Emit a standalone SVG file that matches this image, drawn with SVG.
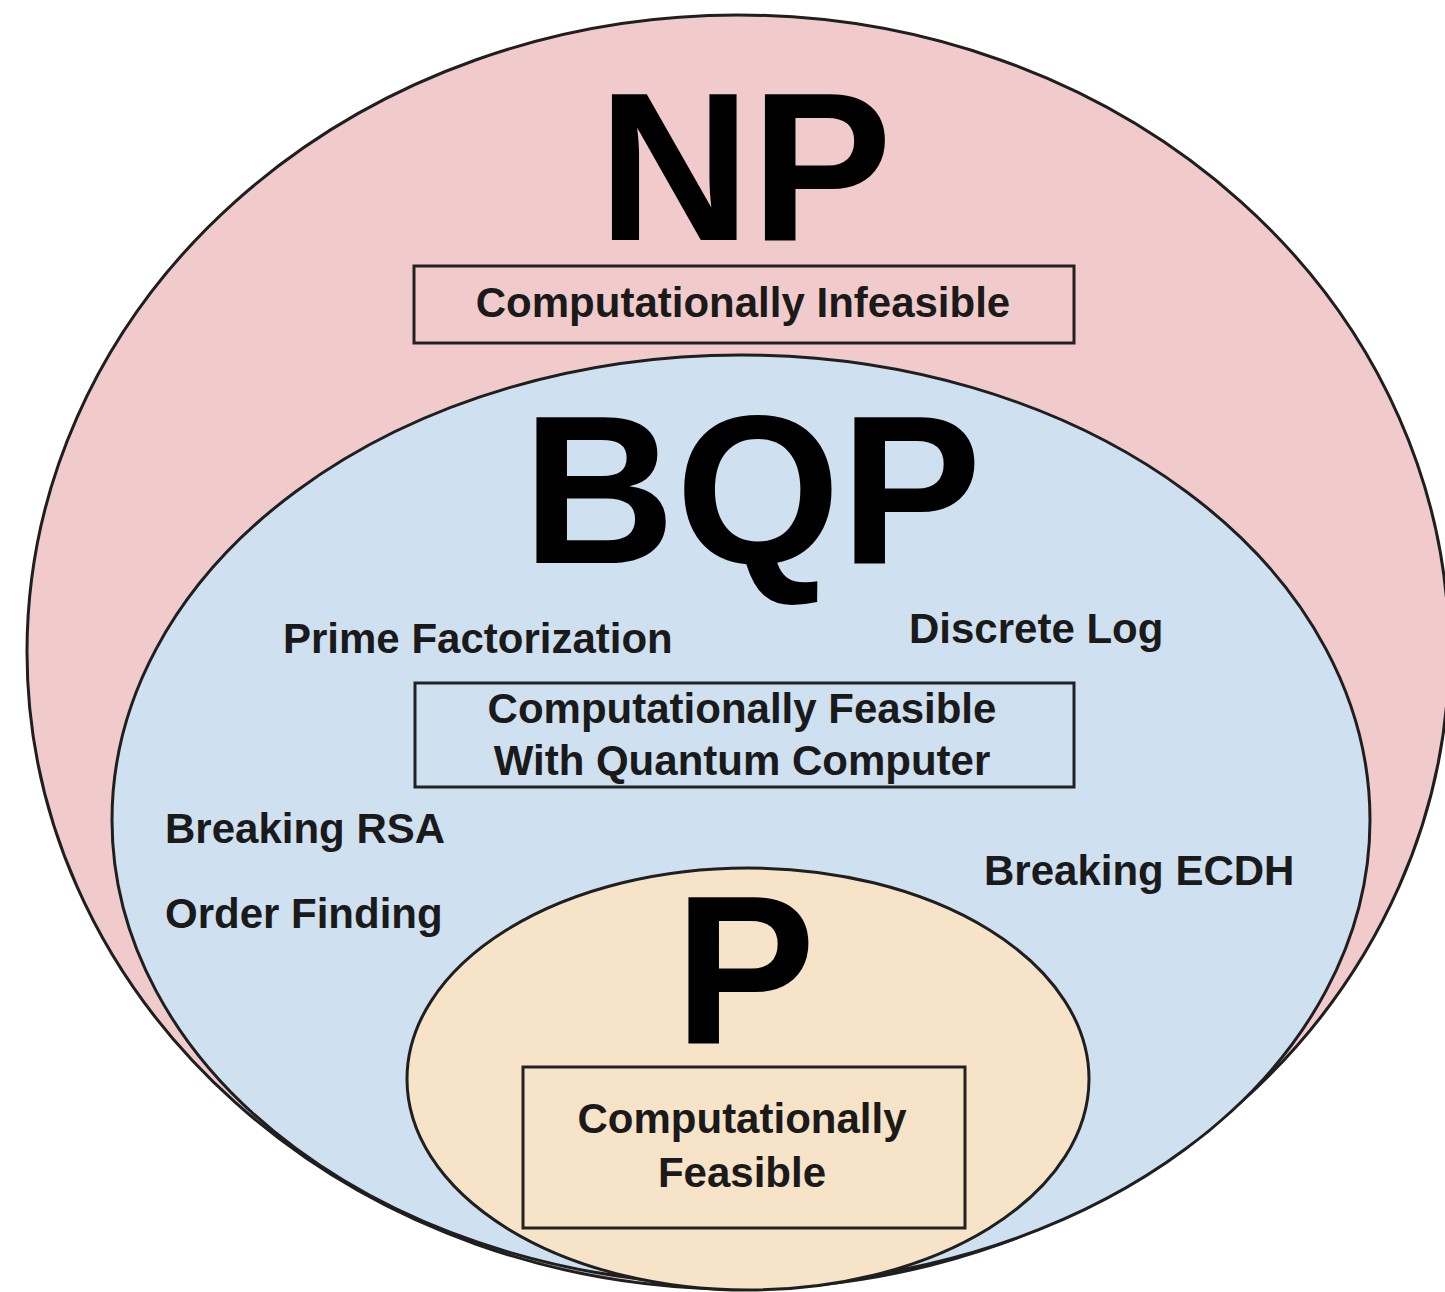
<svg xmlns="http://www.w3.org/2000/svg" width="1445" height="1292" viewBox="0 0 1445 1292">
  <style>
    .set { stroke: #1f1f1f; stroke-width: 3; }
    .box { fill: none; stroke: #222; stroke-width: 3; }
    .big { font-family: "Liberation Sans", Arial, sans-serif; font-weight: bold; font-size: 212px; fill: #000; text-anchor: middle; }
    .lbl { font-family: "Liberation Sans", Arial, sans-serif; font-weight: bold; font-size: 42px; fill: #1a1a1a; }
    .mid { text-anchor: middle; }
  </style>
  <rect width="1445" height="1292" fill="#ffffff"/>

  <!-- NP: outermost class -->
  <g id="np">
    <ellipse class="set" cx="738" cy="652" rx="711" ry="637" fill="#f1cbcb"/>
    <text class="big" x="745" y="240">NP</text>
    <rect class="box" x="414" y="266" width="660" height="77"/>
    <text class="lbl mid" x="743" y="317">Computationally Infeasible</text>
  </g>

  <!-- BQP: problems solvable by a quantum computer -->
  <g id="bqp">
    <ellipse class="set" cx="741" cy="820" rx="629" ry="465" fill="#cfe0f1"/>
    <text class="big" x="752" y="563">BQP</text>
    <text class="lbl" x="283" y="653">Prime Factorization</text>
    <text class="lbl" x="909" y="643">Discrete Log</text>
    <rect class="box" x="415" y="683" width="659" height="104"/>
    <text class="lbl mid" x="742" y="723">Computationally Feasible</text>
    <text class="lbl mid" x="742" y="775">With Quantum Computer</text>
    <text class="lbl" x="165" y="843">Breaking RSA</text>
    <text class="lbl" x="165" y="928">Order Finding</text>
    <text class="lbl" x="984" y="885">Breaking ECDH</text>
  </g>

  <!-- P: classically tractable problems -->
  <g id="p">
    <ellipse class="set" cx="748" cy="1079" rx="341" ry="211" fill="#f6e3c8"/>
    <text class="big" x="745" y="1043">P</text>
    <rect class="box" x="523" y="1067" width="442" height="161"/>
    <text class="lbl mid" x="742" y="1133">Computationally</text>
    <text class="lbl mid" x="742" y="1187">Feasible</text>
  </g>

  <g id="connectors"/>
</svg>
